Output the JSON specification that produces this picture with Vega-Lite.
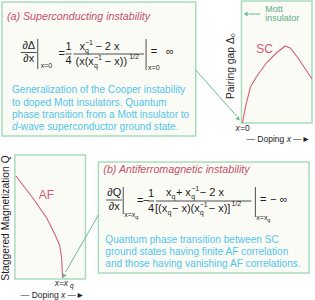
{
  "$schema": "https://vega.github.io/schema/vega-lite/v6.json",
  "width": 315,
  "height": 300,
  "padding": 0,
  "autosize": {"type": "fit", "contains": "padding"},
  "background": "white",
  "config": {"view": {"stroke": null}, "text": {"font": "Liberation Sans", "baseline": "middle"}},
  "datasets": {
    "box": [
      {"x": 2, "y": 2, "x2": 197, "y2": 136},
      {"x": 243, "y": 1, "x2": 314, "y2": 123},
      {"x": 15, "y": 155, "x2": 86, "y2": 279},
      {"x": 99, "y": 162, "x2": 311, "y2": 273}
    ],
    "seg": [
      {"g": "k", "x": 21, "y": 52.5, "x2": 37, "y2": 52.5},
      {"g": "k", "x": 38, "y": 39, "x2": 38, "y2": 69},
      {"g": "k", "x": 66, "y": 54, "x2": 72, "y2": 54},
      {"g": "k", "x": 74, "y": 54, "x2": 145, "y2": 54},
      {"g": "k", "x": 147, "y": 39, "x2": 147, "y2": 70},
      {"g": "k", "x": 107, "y": 200, "x2": 123, "y2": 200},
      {"g": "k", "x": 124, "y": 187, "x2": 124, "y2": 214},
      {"g": "k", "x": 149, "y": 201, "x2": 155, "y2": 201},
      {"g": "k", "x": 157, "y": 201, "x2": 253, "y2": 201},
      {"g": "k", "x": 257, "y": 187, "x2": 257, "y2": 217},
      {"g": "g", "x": 197, "y": 70, "x2": 238, "y2": 116},
      {"g": "g", "x": 99, "y": 215, "x2": 66, "y2": 272},
      {"g": "g", "x": 262, "y": 14, "x2": 250, "y2": 14}
    ],
    "head": [
      {"h": "h1", "x": 239.5, "y": 118.5},
      {"h": "h2", "x": 64.5, "y": 275.5},
      {"h": "h3", "x": 248, "y": 14}
    ],
    "curve": [
      {"s": "SC", "x": 244, "y": 123},
      {"s": "SC", "x": 247, "y": 107},
      {"s": "SC", "x": 252, "y": 87},
      {"s": "SC", "x": 258, "y": 77},
      {"s": "SC", "x": 268, "y": 63},
      {"s": "SC", "x": 278, "y": 53},
      {"s": "SC", "x": 287, "y": 46},
      {"s": "SC", "x": 292, "y": 48},
      {"s": "SC", "x": 300, "y": 58},
      {"s": "SC", "x": 308, "y": 70},
      {"s": "SC", "x": 314, "y": 79},
      {"s": "AF", "x": 16, "y": 176},
      {"s": "AF", "x": 33, "y": 198},
      {"s": "AF", "x": 47, "y": 218},
      {"s": "AF", "x": 55, "y": 234},
      {"s": "AF", "x": 60, "y": 245},
      {"s": "AF", "x": 62, "y": 258},
      {"s": "AF", "x": 63, "y": 278}
    ],
    "txt": [
      {"r": "title", "x": 7, "y": 17, "t": "(a) Superconducting instability"},
      {"r": "title", "x": 104, "y": 170, "t": "(b) Antiferromagnetic instability"},
      {"r": "body", "x": 12, "y": 90, "t": "Generalization of the Cooper instability"},
      {"r": "body", "x": 12, "y": 102.5, "t": "to doped Mott insulators.  Quantum"},
      {"r": "body", "x": 12, "y": 114.5, "t": "phase transition from a Mott insulator to"},
      {"r": "bodyi", "x": 12, "y": 127, "t": "d"},
      {"r": "body", "x": 17.6, "y": 127, "t": "-wave superconductor ground state."},
      {"r": "body", "x": 106, "y": 239.5, "t": "Quantum phase transition between SC"},
      {"r": "body", "x": 106, "y": 251.5, "t": "ground states having finite AF correlation"},
      {"r": "body", "x": 106, "y": 263.5, "t": "and those having vanishing AF correlations."},
      {"r": "eq", "x": 29, "y": 46, "t": "∂Δ"},
      {"r": "eq", "x": 29, "y": 59, "t": "∂x"},
      {"r": "sm", "x": 41, "y": 66, "t": "x=0"},
      {"r": "eq", "x": 62, "y": 54, "t": "="},
      {"r": "eq", "x": 69, "y": 47, "t": "1"},
      {"r": "eq", "x": 69, "y": 61, "t": "4"},
      {"r": "eql", "x": 80, "y": 47, "t": "x"},
      {"r": "sm", "x": 85.5, "y": 50.5, "t": "q"},
      {"r": "sm", "x": 85.5, "y": 43, "t": "−1"},
      {"r": "eql", "x": 96, "y": 47, "t": "− 2 x"},
      {"r": "eql", "x": 76, "y": 62, "t": "(x(x"},
      {"r": "sm", "x": 94.5, "y": 65.5, "t": "q"},
      {"r": "sm", "x": 94.5, "y": 58, "t": "−1"},
      {"r": "eql", "x": 105.5, "y": 62, "t": "− x))"},
      {"r": "sm", "x": 130, "y": 57, "t": "1/2"},
      {"r": "sm", "x": 149, "y": 68, "t": "x=0"},
      {"r": "eq", "x": 155, "y": 52, "t": "="},
      {"r": "eq", "x": 171, "y": 52, "t": "∞"},
      {"r": "eq", "x": 115, "y": 193, "t": "∂Q"},
      {"r": "eq", "x": 115, "y": 207, "t": "∂x"},
      {"r": "sm", "x": 125, "y": 215, "t": "x=x"},
      {"r": "xs", "x": 136, "y": 217, "t": "q"},
      {"r": "eq", "x": 141, "y": 201, "t": "="},
      {"r": "eq", "x": 147, "y": 201, "t": "−"},
      {"r": "eq", "x": 152, "y": 194, "t": "1"},
      {"r": "eq", "x": 152, "y": 208.5, "t": "4"},
      {"r": "eql", "x": 167, "y": 193, "t": "x"},
      {"r": "sm", "x": 172.5, "y": 196.5, "t": "q"},
      {"r": "eql", "x": 177, "y": 193, "t": "+ x"},
      {"r": "sm", "x": 192.5, "y": 196.5, "t": "q"},
      {"r": "sm", "x": 192.5, "y": 189, "t": "−1"},
      {"r": "eql", "x": 201, "y": 193, "t": "− 2 x"},
      {"r": "eql", "x": 156, "y": 209, "t": "[(x"},
      {"r": "sm", "x": 168.5, "y": 212.5, "t": "q"},
      {"r": "eql", "x": 173, "y": 209, "t": "− x)(x"},
      {"r": "sm", "x": 201, "y": 212.5, "t": "q"},
      {"r": "sm", "x": 201, "y": 205, "t": "−1"},
      {"r": "eql", "x": 210, "y": 209, "t": "− x)]"},
      {"r": "sm", "x": 233, "y": 204, "t": "1/2"},
      {"r": "sm", "x": 258, "y": 218, "t": "x=x"},
      {"r": "xs", "x": 269, "y": 220, "t": "q"},
      {"r": "eq", "x": 265, "y": 200, "t": "="},
      {"r": "eql", "x": 272, "y": 200, "t": "− ∞"},
      {"r": "grn", "x": 267, "y": 9, "t": "Mott"},
      {"r": "grn", "x": 267, "y": 17.5, "t": "insulator"},
      {"r": "red", "x": 258, "y": 49, "t": "SC"},
      {"r": "red", "x": 39, "y": 195, "t": "AF"},
      {"r": "ylab", "x": 232, "y": 66, "t": "Pairing gap Δ₀"},
      {"r": "ylab", "x": 6, "y": 218, "t": "Staggered Magnetization Q"},
      {"r": "labi", "x": 237, "y": 128, "t": "x"},
      {"r": "lab", "x": 241.5, "y": 128, "t": "=0"},
      {"r": "lab", "x": 248, "y": 138.5, "t": "— Doping"},
      {"r": "labi", "x": 288.5, "y": 138.5, "t": "x"},
      {"r": "lab", "x": 295, "y": 138.5, "t": "—►"},
      {"r": "labi", "x": 55, "y": 283, "t": "x=x"},
      {"r": "labi", "x": 70.5, "y": 285.5, "t": "q", "sz": 1},
      {"r": "lab", "x": 21, "y": 294.5, "t": "— Doping"},
      {"r": "labi", "x": 61.5, "y": 294.5, "t": "x"},
      {"r": "lab", "x": 68, "y": 294.5, "t": "—►"}
    ]
  },
  "encoding": {
    "x": {"field": "x", "type": "quantitative", "scale": {"domain": [0, 315], "nice": false, "zero": false}, "axis": null},
    "y": {"field": "y", "type": "quantitative", "scale": {"domain": [0, 300], "nice": false, "zero": false, "reverse": true}, "axis": null}
  },
  "layer": [
    {"data": {"name": "box"}, "mark": {"type": "rect", "fill": "#fbfbf6", "stroke": "#a9dbbd", "strokeWidth": 1.5},
     "encoding": {"x2": {"field": "x2"}, "y2": {"field": "y2"}}},
    {"data": {"name": "curve"}, "mark": {"type": "line", "color": "#d2607a", "strokeWidth": 1.1},
     "encoding": {"detail": {"field": "s"}}},
    {"data": {"name": "seg"}, "transform": [{"filter": "datum.g == 'k'"}], "mark": {"type": "rule", "color": "#222", "strokeWidth": 0.8},
     "encoding": {"x2": {"field": "x2"}, "y2": {"field": "y2"}}},
    {"data": {"name": "seg"}, "transform": [{"filter": "datum.g == 'g'"}], "mark": {"type": "rule", "color": "#68bb8c", "strokeWidth": 1},
     "encoding": {"x2": {"field": "x2"}, "y2": {"field": "y2"}}},
    {"data": {"name": "head"}, "transform": [{"filter": "datum.h == 'h1'"}], "mark": {"type": "point", "shape": "triangle", "filled": true, "color": "#68bb8c", "size": 22, "angle": 139, "opacity": 1}, "encoding": {}},
    {"data": {"name": "head"}, "transform": [{"filter": "datum.h == 'h2'"}], "mark": {"type": "point", "shape": "triangle", "filled": true, "color": "#68bb8c", "size": 22, "angle": 210, "opacity": 1}, "encoding": {}},
    {"data": {"name": "head"}, "transform": [{"filter": "datum.h == 'h3'"}], "mark": {"type": "point", "shape": "triangle", "filled": true, "color": "#68bb8c", "size": 22, "angle": 270, "opacity": 1}, "encoding": {}},
    {"data": {"name": "txt"}, "transform": [{"filter": "datum.r == 'title'"}], "mark": {"type": "text", "align": "left", "fontSize": 10.7, "fontStyle": "italic", "color": "#c4506c"}, "encoding": {"text": {"field": "t"}}},
    {"data": {"name": "txt"}, "transform": [{"filter": "datum.r == 'body'"}], "mark": {"type": "text", "align": "left", "fontSize": 10.1, "color": "#52c5ec"}, "encoding": {"text": {"field": "t"}}},
    {"data": {"name": "txt"}, "transform": [{"filter": "datum.r == 'bodyi'"}], "mark": {"type": "text", "align": "left", "fontSize": 10.1, "fontStyle": "italic", "color": "#52c5ec"}, "encoding": {"text": {"field": "t"}}},
    {"data": {"name": "txt"}, "transform": [{"filter": "datum.r == 'eq'"}], "mark": {"type": "text", "align": "center", "fontSize": 11, "color": "#1e1e1e"}, "encoding": {"text": {"field": "t"}}},
    {"data": {"name": "txt"}, "transform": [{"filter": "datum.r == 'eql'"}], "mark": {"type": "text", "align": "left", "fontSize": 11, "color": "#1e1e1e"}, "encoding": {"text": {"field": "t"}}},
    {"data": {"name": "txt"}, "transform": [{"filter": "datum.r == 'sm'"}], "mark": {"type": "text", "align": "left", "fontSize": 7, "color": "#1e1e1e"}, "encoding": {"text": {"field": "t"}}},
    {"data": {"name": "txt"}, "transform": [{"filter": "datum.r == 'xs'"}], "mark": {"type": "text", "align": "left", "fontSize": 5.5, "color": "#1e1e1e"}, "encoding": {"text": {"field": "t"}}},
    {"data": {"name": "txt"}, "transform": [{"filter": "datum.r == 'grn'"}], "mark": {"type": "text", "align": "left", "fontSize": 9, "color": "#5aae80"}, "encoding": {"text": {"field": "t"}}},
    {"data": {"name": "txt"}, "transform": [{"filter": "datum.r == 'red'"}], "mark": {"type": "text", "align": "left", "fontSize": 12, "color": "#d05a74"}, "encoding": {"text": {"field": "t"}}},
    {"data": {"name": "txt"}, "transform": [{"filter": "datum.r == 'ylab'"}], "mark": {"type": "text", "align": "center", "fontSize": 10.3, "angle": 270, "color": "#1e1e1e"}, "encoding": {"text": {"field": "t"}}},
    {"data": {"name": "txt"}, "transform": [{"filter": "datum.r == 'lab'"}], "mark": {"type": "text", "align": "left", "fontSize": 8.5, "color": "#1e1e1e"}, "encoding": {"text": {"field": "t"}}},
    {"data": {"name": "txt"}, "transform": [{"filter": "datum.r == 'labi' && !datum.sz"}], "mark": {"type": "text", "align": "left", "fontSize": 8.5, "fontStyle": "italic", "color": "#1e1e1e"}, "encoding": {"text": {"field": "t"}}},
    {"data": {"name": "txt"}, "transform": [{"filter": "datum.r == 'labi' && datum.sz"}], "mark": {"type": "text", "align": "left", "fontSize": 6.5, "fontStyle": "italic", "color": "#1e1e1e"}, "encoding": {"text": {"field": "t"}}}
  ]
}
